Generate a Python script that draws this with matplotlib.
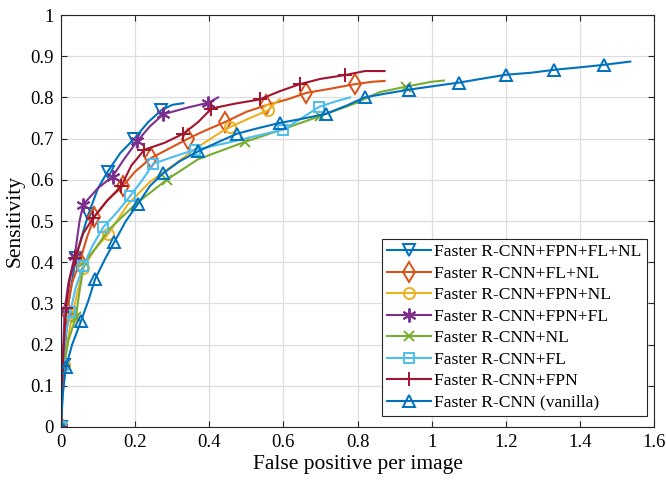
import numpy as np
import matplotlib.pyplot as plt

plt.rcParams['font.family'] = ['Liberation Serif', 'DejaVu Serif']

# ---- data ----
labels = ['Faster R-CNN+FPN+FL+NL', 'Faster R-CNN+FL+NL', 'Faster R-CNN+FPN+NL',
          'Faster R-CNN+FPN+FL', 'Faster R-CNN+NL', 'Faster R-CNN+FL',
          'Faster R-CNN+FPN', 'Faster R-CNN (vanilla)']

# FPN+FL+NL
fp_all = [0, 0.003, 0.008, 0.02, 0.04, 0.055, 0.074, 0.10, 0.126, 0.16, 0.198, 0.235, 0.271, 0.30, 0.33]
se_all = [0, 0.07, 0.15, 0.30, 0.41, 0.46, 0.517, 0.58, 0.62, 0.665, 0.70, 0.74, 0.769, 0.782, 0.786]
mk_all = [0, 2, 4, 6, 8, 10, 12]

# FL+NL
fp_flnl = [0, 0.002, 0.005, 0.01, 0.015, 0.03, 0.05, 0.07, 0.09, 0.125, 0.166, 0.2, 0.243,
           0.29, 0.343, 0.39, 0.442, 0.5, 0.554, 0.61, 0.662, 0.72, 0.792, 0.84, 0.873]
se_flnl = [0, 0.07, 0.15, 0.22, 0.28, 0.35, 0.40, 0.46, 0.51, 0.55, 0.584, 0.62, 0.653,
           0.675, 0.70, 0.72, 0.74, 0.765, 0.781, 0.795, 0.811, 0.82, 0.832, 0.838, 0.84]
mk_flnl = list(range(0, 23, 2))

# FPN+NL
fp_fpnnl = [0, 0.003, 0.008, 0.018, 0.03, 0.045, 0.06, 0.09, 0.128, 0.18, 0.24, 0.31, 0.37,
            0.43, 0.456, 0.51, 0.559, 0.575, 0.59]
se_fpnnl = [0, 0.07, 0.15, 0.21, 0.27, 0.33, 0.385, 0.43, 0.469, 0.54, 0.595, 0.64, 0.68,
            0.715, 0.728, 0.75, 0.769, 0.785, 0.795]
mk_fpnnl = [0, 2, 4, 6, 8, 14, 16]

# FPN+FL
fp_fpnfl = [0, 0.004, 0.01, 0.02, 0.037, 0.05, 0.06, 0.10, 0.139, 0.17, 0.205, 0.24, 0.276,
            0.34, 0.397, 0.424]
se_fpnfl = [0, 0.15, 0.285, 0.35, 0.415, 0.50, 0.54, 0.58, 0.608, 0.65, 0.693, 0.73, 0.759,
            0.775, 0.787, 0.80]
mk_fpnfl = list(range(0, 15, 2))

# NL
fp_nl = [0, 0.003, 0.008, 0.02, 0.04, 0.05, 0.063, 0.09, 0.13, 0.2, 0.285, 0.37, 0.43, 0.496,
         0.59, 0.7, 0.792, 0.86, 0.93, 1.0, 1.033]
se_nl = [0, 0.07, 0.15, 0.21, 0.266, 0.33, 0.40, 0.43, 0.48, 0.54, 0.60, 0.65, 0.67, 0.692,
         0.72, 0.755, 0.785, 0.813, 0.826, 0.838, 0.841]
mk_nl = [0, 2, 4, 6, 10, 13, 15, 18]

# FL
fp_fl = [0, 0.002, 0.005, 0.012, 0.025, 0.04, 0.06, 0.085, 0.114, 0.15, 0.186, 0.22, 0.249,
         0.3, 0.361, 0.45, 0.52, 0.6, 0.65, 0.696, 0.74, 0.78]
se_fl = [0, 0.07, 0.15, 0.22, 0.28, 0.34, 0.39, 0.44, 0.485, 0.52, 0.56, 0.60, 0.639,
         0.655, 0.673, 0.69, 0.705, 0.722, 0.75, 0.777, 0.79, 0.80]
mk_fl = [0, 2, 4, 6, 8, 10, 12, 14, 17, 19]

# FPN
fp_fpn = [0, 0.002, 0.005, 0.009, 0.013, 0.024, 0.038, 0.06, 0.087, 0.125, 0.162, 0.19, 0.225,
          0.28, 0.33, 0.37, 0.406, 0.47, 0.536, 0.59, 0.644, 0.70, 0.765, 0.82, 0.873]
se_fpn = [0, 0.07, 0.148, 0.22, 0.29, 0.36, 0.41, 0.47, 0.508, 0.55, 0.584, 0.635, 0.673,
          0.69, 0.712, 0.74, 0.773, 0.785, 0.795, 0.815, 0.832, 0.845, 0.854, 0.864, 0.864]
mk_fpn = list(range(0, 23, 2))

# vanilla
fp_van = [0, 0.005, 0.013, 0.03, 0.054, 0.075, 0.092, 0.12, 0.144, 0.175, 0.208, 0.24, 0.276,
          0.32, 0.37, 0.42, 0.475, 0.53, 0.59, 0.65, 0.714, 0.77, 0.819, 0.88, 0.94, 1.01,
          1.074, 1.14, 1.2, 1.27, 1.33, 1.4, 1.464, 1.536]
se_van = [0, 0.08, 0.145, 0.2, 0.257, 0.31, 0.359, 0.41, 0.449, 0.50, 0.542, 0.585, 0.616,
          0.645, 0.669, 0.69, 0.712, 0.725, 0.738, 0.748, 0.76, 0.78, 0.80, 0.81, 0.819, 0.828,
          0.836, 0.846, 0.855, 0.86, 0.867, 0.873, 0.879, 0.887]
mk_van = list(range(0, 33, 2))

xs = [fp_all, fp_flnl, fp_fpnnl, fp_fpnfl, fp_nl, fp_fl, fp_fpn, fp_van]
ys = [se_all, se_flnl, se_fpnnl, se_fpnfl, se_nl, se_fl, se_fpn, se_van]
mks = [mk_all, mk_flnl, mk_fpnnl, mk_fpnfl, mk_nl, mk_fl, mk_fpn, mk_van]

# matlab default colour order
colors = ['#0072BD', '#D95319', '#EDB120', '#7E2F8E', '#77AC30', '#4DBEEE', '#A2142F', '#0072BD']
markers = ['v', 'd', 'o', (6, 2, 0), 'x', 's', '+', '^']
msizes = [9, 10, 8, 10, 7, 7, 10, 9]

fig = plt.figure(figsize=(6.66, 4.86), dpi=100)
ax = fig.add_axes([0.0916, 0.1214, 0.8904, 0.8477])

for i in range(8):
    ax.plot(xs[i], ys[i], color=colors[i], lw=1.5, marker=markers[i], ms=msizes[i],
            mfc='none', mew=1.4, markevery=mks[i], label=labels[i])

ax.set_xlim(0, 1.6)
ax.set_ylim(0, 1)
ax.set_xticks(np.arange(0, 1.61, 0.2))
ax.set_yticks(np.arange(0, 1.01, 0.1))
ax.set_xticklabels(['0', '0.2', '0.4', '0.6', '0.8', '1', '1.2', '1.4', '1.6'])
ax.set_yticklabels(['0', '0.1', '0.2', '0.3', '0.4', '0.5', '0.6', '0.7', '0.8', '0.9', '1'])
ax.grid(True, color='#dedede', lw=0.9)
ax.set_axisbelow(True)
ax.tick_params(direction='in', top=True, right=True, labelsize=13.5, colors='#262626',
               length=4, labelcolor='black', pad=5)
for s in ax.spines.values():
    s.set_color('#262626')
    s.set_linewidth(0.8)
ax.set_xlabel('False positive per image', fontsize=15.5, labelpad=3)
ax.set_ylabel('Sensitivity', fontsize=15.5, labelpad=4)

leg = ax.legend(loc='lower right', bbox_to_anchor=(0.988, 0.027), borderaxespad=0,
                fontsize=12.6, fancybox=False, edgecolor='#262626', framealpha=1,
                handlelength=2.5, handletextpad=0.2, labelspacing=0.3, borderpad=0.3,
                numpoints=1)
leg.get_frame().set_linewidth(0.8)

fig.savefig('out.png', dpi=100)
